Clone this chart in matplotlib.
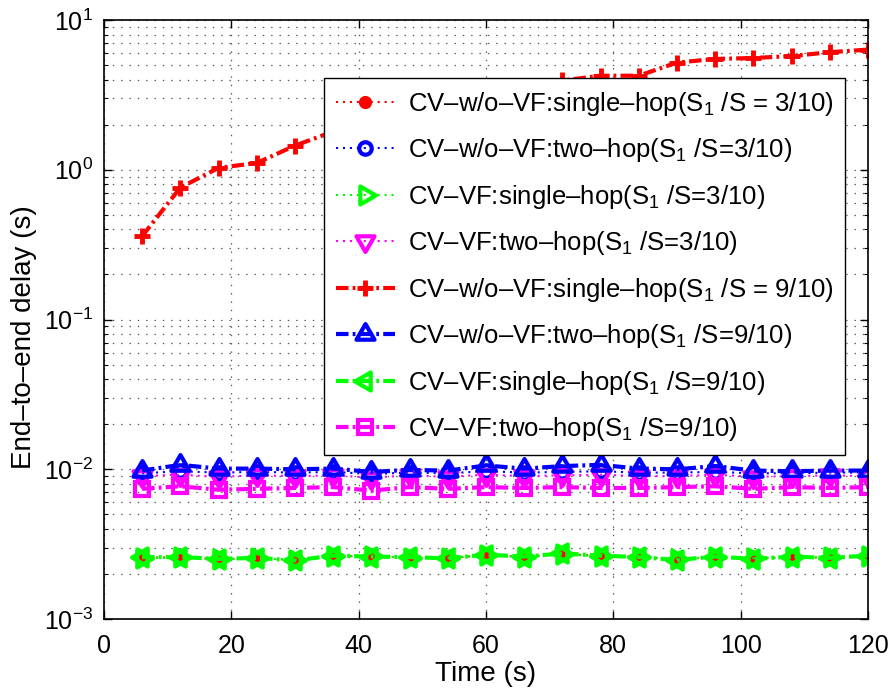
import matplotlib
matplotlib.use("Agg")
import matplotlib.pyplot as plt
from matplotlib.path import Path
from matplotlib.ticker import LogLocator, NullFormatter, MultipleLocator

plt.rcParams['font.family'] = ['Liberation Sans', 'DejaVu Sans']
plt.rcParams['mathtext.fontset'] = 'custom'
plt.rcParams['mathtext.rm'] = 'Liberation Sans'
plt.rcParams['mathtext.default'] = 'regular'
plt.rcParams['lines.scale_dashes'] = False

# time axis (s)
t = [6, 12, 18, 24, 30, 36, 42, 48, 54, 60, 66, 72, 78, 84, 90, 96, 102, 108, 114, 120]

# ratio S1/S = 3/10
wo_single_3 = [0.00257, 0.00258, 0.00251, 0.00255, 0.00248, 0.00263, 0.00262, 0.00258, 0.00255, 0.00267,
               0.00260, 0.00272, 0.00264, 0.00260, 0.00249, 0.00260, 0.00253, 0.00259, 0.00257, 0.00263]
wo_two_3 = [0.0094, 0.0097, 0.0095, 0.0096, 0.0095, 0.0096, 0.0093, 0.0095, 0.0094, 0.0097,
            0.0095, 0.0096, 0.0097, 0.0095, 0.0095, 0.0096, 0.0094, 0.0094, 0.0095, 0.0095]
vf_single_3 = [0.00255, 0.00258, 0.00250, 0.00254, 0.00249, 0.00262, 0.00263, 0.00257, 0.00256, 0.00266,
               0.00259, 0.00270, 0.00263, 0.00261, 0.00251, 0.00259, 0.00255, 0.00258, 0.00258, 0.00262]
vf_two_3 = [0.0090, 0.0092, 0.0089, 0.0091, 0.0090, 0.0091, 0.0088, 0.0091, 0.0089, 0.0092,
            0.0090, 0.0091, 0.0092, 0.0090, 0.0090, 0.0092, 0.0089, 0.0090, 0.0091, 0.0090]

# ratio S1/S = 9/10
wo_single_9 = [0.36, 0.76, 1.03, 1.11, 1.45, 1.80, 2.10, 2.45, 2.85, 3.20,
               3.55, 3.95, 4.25, 4.25, 5.20, 5.50, 5.58, 5.75, 6.10, 6.35]
wo_two_9 = [0.0098, 0.0107, 0.0101, 0.0101, 0.0100, 0.0101, 0.0096, 0.0099, 0.0098, 0.0106,
            0.0101, 0.0105, 0.0107, 0.0101, 0.0100, 0.0105, 0.0098, 0.0097, 0.0098, 0.0098]
vf_single_9 = [0.00259, 0.00259, 0.00252, 0.00256, 0.00246, 0.00265, 0.00261, 0.00259, 0.00254, 0.00269,
               0.00261, 0.00274, 0.00265, 0.00259, 0.00248, 0.00261, 0.00252, 0.00261, 0.00256, 0.00265]
vf_two_9 = [0.0074, 0.0077, 0.0073, 0.0074, 0.0075, 0.0076, 0.0072, 0.0076, 0.0074, 0.0076,
            0.0075, 0.0076, 0.0075, 0.0075, 0.0076, 0.0077, 0.0074, 0.0076, 0.0075, 0.0076]

labels = [
    'CV–w/o–VF:single–hop($S_1$ /S = 3/10)',
    'CV–w/o–VF:two–hop($S_1$ /S=3/10)',
    'CV–VF:single–hop($S_1$ /S=3/10)',
    'CV–VF:two–hop($S_1$ /S=3/10)',
    'CV–w/o–VF:single–hop($S_1$ /S = 9/10)',
    'CV–w/o–VF:two–hop($S_1$ /S=9/10)',
    'CV–VF:single–hop($S_1$ /S=9/10)',
    'CV–VF:two–hop($S_1$ /S=9/10)',
]


def tri(dx, dy):
    # equilateral triangle (matlab style) centred on its centroid
    a = (dx, dy)
    b = (-0.5 * dx - 0.866 * dy, -0.5 * dy + 0.866 * dx)
    c = (-0.5 * dx + 0.866 * dy, -0.5 * dy - 0.866 * dx)
    return Path([a, b, c, a], [Path.MOVETO, Path.LINETO, Path.LINETO, Path.CLOSEPOLY])


tri_r, tri_l, tri_u, tri_d = tri(1, 0), tri(-1, 0), tri(0, 1), tri(0, -1)

dot = (0, (1.5, 3.5))
dashdot = (0, (9, 3, 2, 3))

fig = plt.figure(figsize=(8.88, 6.92), dpi=100)
ax = fig.add_axes([0.117, 0.1055, 0.8605, 0.8655])

ax.plot(t, wo_single_3, color='red', ls=dot, lw=1.5, marker='o', ms=8, mfc='red', mew=1.5, label=labels[0])
ax.plot(t, wo_two_3, color='blue', ls=dot, lw=1.5, marker='o', ms=9, mfc='none', mew=3, label=labels[1])
ax.plot(t, vf_single_3, color='#00ff00', ls=dot, lw=1.5, marker=tri_r, ms=15, mfc='none', mew=3, label=labels[2])
ax.plot(t, vf_two_3, color='magenta', ls=dot, lw=1.5, marker=tri_d, ms=15, mfc='none', mew=3, label=labels[3])
ax.plot(t, wo_single_9, color='red', ls=dashdot, lw=3, marker='+', ms=12, mew=3.5, label=labels[4])
ax.plot(t, wo_two_9, color='blue', ls=dashdot, lw=3, marker=tri_u, ms=15, mfc='none', mew=3, label=labels[5])
ax.plot(t, vf_single_9, color='#00ff00', ls=dashdot, lw=3, marker=tri_l, ms=15, mfc='none', mew=3, label=labels[6])
ax.plot(t, vf_two_9, color='magenta', ls=dashdot, lw=3, marker='s', ms=10, mfc='none', mew=3, label=labels[7])

ax.set_yscale('log')
ax.set_xlim(0, 120)
ax.set_ylim(1e-3, 1e1)
ax.xaxis.set_major_locator(MultipleLocator(20))
ax.yaxis.set_major_locator(LogLocator(base=10, numticks=10))
ax.yaxis.set_minor_locator(LogLocator(base=10, subs=range(2, 10), numticks=20))
ax.yaxis.set_minor_formatter(NullFormatter())

ax.grid(True, which='major', axis='both', color='#555555', ls=(0, (1, 5)), lw=0.9)
ax.grid(True, which='minor', axis='y', color='#555555', ls=(0, (1, 5)), lw=0.9)

ax.tick_params(which='both', direction='in', top=True, right=True, labelsize=18)
ax.tick_params(which='major', length=6, width=1)
ax.tick_params(which='minor', length=3, width=0.8)
ax.tick_params(axis='x', pad=11)
ax.tick_params(axis='y', pad=8)
for s in ax.spines.values():
    s.set_linewidth(1.2)

ax.set_xlabel('Time (s)', fontsize=20)
ax.set_ylabel('End–to–end delay (s)', fontsize=20)
ax.xaxis.set_label_coords(0.5, -0.07)
ax.yaxis.set_label_coords(-0.088, 0.47)

leg = ax.legend(loc='upper right', bbox_to_anchor=(0.970, 0.903), fontsize=18.5,
                frameon=True, fancybox=False, edgecolor='black', framealpha=1,
                handlelength=2.3, handletextpad=0.5, labelspacing=0.72,
                borderpad=0.45, borderaxespad=0)
leg.get_frame().set_linewidth(1.0)

fig.savefig('out.png', dpi=100)
